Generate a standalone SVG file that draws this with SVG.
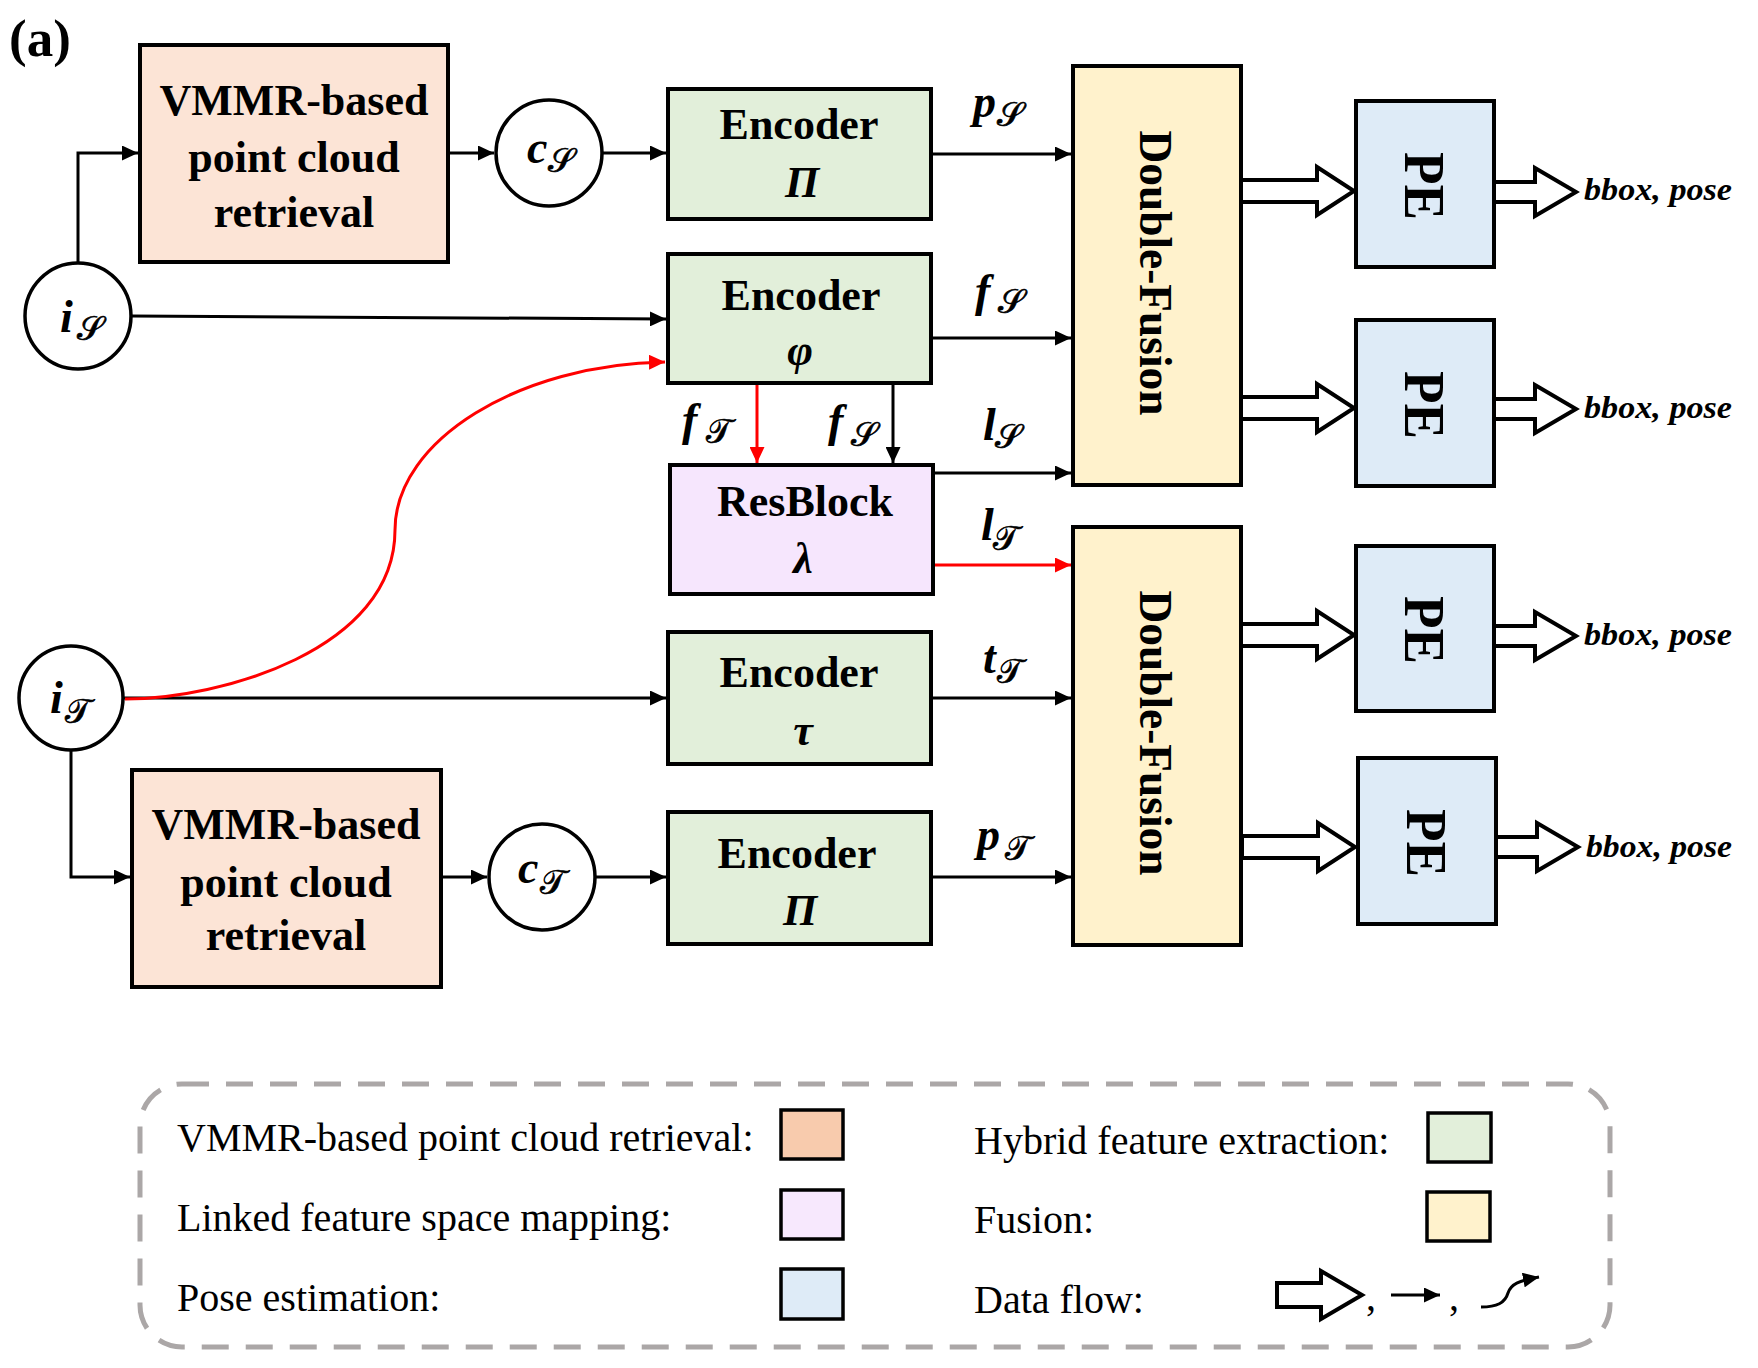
<svg xmlns="http://www.w3.org/2000/svg" width="1758" height="1368" viewBox="0 0 1758 1368">
  <style>
    .box { stroke: #000; stroke-width: 4; }
    .vmmr { fill: #fce4d6; }
    .enc { fill: #e2efda; }
    .res { fill: #f6e6fd; }
    .fus { fill: #fff2cc; }
    .pe { fill: #deebf7; }
    .circ { fill: #fff; stroke: #000; stroke-width: 3.5; }
    .lbl { font-family: "Liberation Serif", "Times New Roman", serif; font-weight: bold; font-size: 44px; fill: #000; text-anchor: middle; }
    .greek { font-family: "Liberation Serif", "DejaVu Serif", serif; font-style: italic; font-weight: bold; font-size: 44px; text-anchor: middle; }
    .vert { font-family: "Liberation Serif", serif; font-weight: bold; fill: #000; text-anchor: middle; }
    .mi { font-family: "Liberation Serif", serif; font-style: italic; font-weight: bold; font-size: 46px; fill: #000; }
    .mib { font-family: "Liberation Serif", serif; font-style: italic; font-weight: bold; font-size: 46px; fill: #000; }
    .scr { font-family: "DejaVu Serif", "DejaVu Sans", "Noto Sans", serif; font-size: 34px; fill: #000; stroke: #000; stroke-width: 0.7; }
    .out { font-family: "Liberation Serif", serif; font-style: italic; font-weight: bold; font-size: 31px; fill: #000; }
    .wire { fill: none; stroke: #000; stroke-width: 3; }
    .wire-red { fill: none; stroke: #ff0000; stroke-width: 3; }
    .hollow { fill: #fff; stroke: #000; stroke-width: 4; stroke-linejoin: miter; }
    .legend-frame { fill: none; stroke: #aba7a7; stroke-width: 5; stroke-dasharray: 27 17; }
    .legend-text { font-family: "Liberation Serif", serif; font-size: 40px; fill: #000; }
    .swatch { stroke: #000; stroke-width: 3.5; }
  </style>
  <defs>
    <marker id="arrow" markerUnits="userSpaceOnUse" markerWidth="16" markerHeight="15" refX="16" refY="7.5" orient="auto">
      <path d="M0,0 L16,7.5 L0,15 Z" fill="#000"/>
    </marker>
    <marker id="arrow-red" markerUnits="userSpaceOnUse" markerWidth="16" markerHeight="15" refX="16" refY="7.5" orient="auto">
      <path d="M0,0 L16,7.5 L0,15 Z" fill="#ff0000"/>
    </marker>
    <path id="hollow-long" d="M0,-11 H76 V-24 L113,0 L76,24 V11 H0 Z"/>
    <path id="hollow-short" d="M0,-10 H41 V-24 L82,0 L41,24 V10 H0 Z"/>
  </defs>

  <rect width="1758" height="1368" fill="#fff"/>

  <!-- panel tag -->
  <text x="9" y="56" font-family="Liberation Serif, serif" font-weight="bold" font-size="53">(a)</text>

  <!-- connectors -->
  <g id="connectors">
    <path class="wire" d="M78,263 V153 H138" marker-end="url(#arrow)"/>
    <path class="wire" d="M450,153 H494" marker-end="url(#arrow)"/>
    <path class="wire" d="M603,153 H666" marker-end="url(#arrow)"/>
    <path class="wire" d="M933,154 H1071" marker-end="url(#arrow)"/>
    <path class="wire" d="M131,316 L666,319" marker-end="url(#arrow)"/>
    <path class="wire" d="M933,338 H1071" marker-end="url(#arrow)"/>
    <path class="wire-red" d="M757,385 V463" marker-end="url(#arrow-red)"/>
    <path class="wire" d="M893,385 V463" marker-end="url(#arrow)"/>
    <path class="wire" d="M935,473 H1071" marker-end="url(#arrow)"/>
    <path class="wire-red" d="M935,565 H1071" marker-end="url(#arrow-red)"/>
    <path class="wire" d="M124,698 H666" marker-end="url(#arrow)"/>
    <path class="wire" d="M933,698 H1071" marker-end="url(#arrow)"/>
    <path class="wire" d="M71,751 V877 H130" marker-end="url(#arrow)"/>
    <path class="wire" d="M443,877 H487" marker-end="url(#arrow)"/>
    <path class="wire" d="M596,877 H666" marker-end="url(#arrow)"/>
    <path class="wire" d="M933,877 H1071" marker-end="url(#arrow)"/>
    <path class="wire-red" d="M125,699 C220,699 395,650 395,530 C395,440 520,364 665,362" marker-end="url(#arrow-red)"/>

    <!-- fusion to pose-estimation block arrows -->
    <use href="#hollow-long" class="hollow" transform="translate(1241,191)"/>
    <use href="#hollow-long" class="hollow" transform="translate(1241,408)"/>
    <use href="#hollow-long" class="hollow" transform="translate(1241,635)"/>
    <use href="#hollow-long" class="hollow" transform="translate(1242,847)"/>
    <use href="#hollow-short" class="hollow" transform="translate(1494,192)"/>
    <use href="#hollow-short" class="hollow" transform="translate(1494,409)"/>
    <use href="#hollow-short" class="hollow" transform="translate(1494,636)"/>
    <use href="#hollow-short" class="hollow" transform="translate(1496,847)"/>

    <!-- edge labels -->
    <text class="mi" x="973" y="117">p</text><text class="scr" x="997" y="126">𝒮</text>
    <text class="mi" x="975" y="306">f</text><text class="scr" x="998" y="313">𝒮</text>
    <text class="mi" x="682" y="435">f</text><text class="scr" x="706" y="443">𝒯</text>
    <text class="mi" x="828" y="436">f</text><text class="scr" x="851" y="446">𝒮</text>
    <text class="mi" x="983" y="440">l</text><text class="scr" x="995" y="448">𝒮</text>
    <text class="mi" x="981" y="540">l</text><text class="scr" x="993" y="550">𝒯</text>
    <text class="mi" x="983" y="673">t</text><text class="scr" x="997" y="683">𝒯</text>
    <text class="mi" x="977" y="850">p</text><text class="scr" x="1005" y="860">𝒯</text>

    <!-- outputs -->
    <text class="out" x="1584" y="200" textLength="148" lengthAdjust="spacingAndGlyphs">bbox, pose</text>
    <text class="out" x="1584" y="418" textLength="148" lengthAdjust="spacingAndGlyphs">bbox, pose</text>
    <text class="out" x="1584" y="645" textLength="148" lengthAdjust="spacingAndGlyphs">bbox, pose</text>
    <text class="out" x="1586" y="857" textLength="146" lengthAdjust="spacingAndGlyphs">bbox, pose</text>
  </g>

  <!-- inputs and retrieved clouds -->
  <g id="node-iS">
    <circle class="circ" cx="78" cy="316" r="53"/>
    <text class="mib" x="60" y="332">i</text><text class="scr" x="77" y="340">𝒮</text>
  </g>
  <g id="node-cS">
    <circle class="circ" cx="549" cy="153" r="53"/>
    <text class="mib" x="527" y="163">c</text><text class="scr" x="548" y="172">𝒮</text>
  </g>
  <g id="node-iT">
    <circle class="circ" cx="71" cy="698" r="52"/>
    <text class="mib" x="50" y="713">i</text><text class="scr" x="65" y="723">𝒯</text>
  </g>
  <g id="node-cT">
    <circle class="circ" cx="542" cy="877" r="53"/>
    <text class="mib" x="518" y="883">c</text><text class="scr" x="540" y="894">𝒯</text>
  </g>

  <!-- point cloud retrieval blocks -->
  <g id="node-vmmr-s">
    <rect class="box vmmr" x="140" y="45" width="308" height="217"/>
    <text class="lbl" x="294" y="115">VMMR-based</text>
    <text class="lbl" x="294" y="172">point cloud</text>
    <text class="lbl" x="294" y="227">retrieval</text>
  </g>
  <g id="node-vmmr-t">
    <rect class="box vmmr" x="132" y="770" width="309" height="217"/>
    <text class="lbl" x="286" y="839">VMMR-based</text>
    <text class="lbl" x="286" y="897">point cloud</text>
    <text class="lbl" x="286" y="950">retrieval</text>
  </g>

  <!-- encoders -->
  <g id="node-enc-pi-s">
    <rect class="box enc" x="668" y="89" width="263" height="130"/>
    <text class="lbl" x="799" y="139">Encoder</text>
    <text class="greek" x="802" y="197">Π</text>
  </g>
  <g id="node-enc-phi">
    <rect class="box enc" x="668" y="254" width="263" height="129"/>
    <text class="lbl" x="801" y="310">Encoder</text>
    <text class="greek" x="800" y="365">φ</text>
  </g>
  <g id="node-resblock">
    <rect class="box res" x="670" y="465" width="263" height="129"/>
    <text class="lbl" x="805" y="516">ResBlock</text>
    <text class="greek" x="803" y="573">λ</text>
  </g>
  <g id="node-enc-tau">
    <rect class="box enc" x="668" y="632" width="263" height="132"/>
    <text class="lbl" x="799" y="687">Encoder</text>
    <text class="greek" x="803" y="745">τ</text>
  </g>
  <g id="node-enc-pi-t">
    <rect class="box enc" x="668" y="812" width="263" height="132"/>
    <text class="lbl" x="797" y="868">Encoder</text>
    <text class="greek" x="800" y="925">Π</text>
  </g>

  <!-- fusion blocks -->
  <g id="node-fusion-1">
    <rect class="box fus" x="1073" y="66" width="168" height="419"/>
    <text class="vert" font-size="47" textLength="285" lengthAdjust="spacingAndGlyphs" transform="translate(1140,273) rotate(90)">Double-Fusion</text>
  </g>
  <g id="node-fusion-2">
    <rect class="box fus" x="1073" y="527" width="168" height="418"/>
    <text class="vert" font-size="47" textLength="285" lengthAdjust="spacingAndGlyphs" transform="translate(1140,733) rotate(90)">Double-Fusion</text>
  </g>

  <!-- pose estimation heads -->
  <g id="node-pe-1">
    <rect class="box pe" x="1356" y="101" width="138" height="166"/>
    <text class="vert" font-size="56" textLength="68" lengthAdjust="spacingAndGlyphs" transform="translate(1405,186) rotate(90)">PE</text>
  </g>
  <g id="node-pe-2">
    <rect class="box pe" x="1356" y="320" width="138" height="166"/>
    <text class="vert" font-size="56" textLength="68" lengthAdjust="spacingAndGlyphs" transform="translate(1405,405) rotate(90)">PE</text>
  </g>
  <g id="node-pe-3">
    <rect class="box pe" x="1356" y="546" width="138" height="165"/>
    <text class="vert" font-size="56" textLength="68" lengthAdjust="spacingAndGlyphs" transform="translate(1405,630) rotate(90)">PE</text>
  </g>
  <g id="node-pe-4">
    <rect class="box pe" x="1358" y="758" width="138" height="166"/>
    <text class="vert" font-size="56" textLength="68" lengthAdjust="spacingAndGlyphs" transform="translate(1407,843) rotate(90)">PE</text>
  </g>

  <!-- legend -->
  <g id="legend">
    <rect class="legend-frame" x="140" y="1084" width="1470" height="263" rx="42"/>
    <text class="legend-text" x="177" y="1151">VMMR-based point cloud retrieval:</text>
    <text class="legend-text" x="177" y="1231">Linked feature space mapping:</text>
    <text class="legend-text" x="177" y="1311">Pose estimation:</text>
    <rect class="swatch" x="781" y="1110" width="62" height="49" fill="#f8cbad"/>
    <rect class="swatch" x="781" y="1190" width="62" height="49" fill="#f7e8fd"/>
    <rect class="swatch" x="781" y="1269" width="62" height="50" fill="#deebf7"/>
    <text class="legend-text" x="974" y="1154">Hybrid feature extraction:</text>
    <text class="legend-text" x="974" y="1233">Fusion:</text>
    <text class="legend-text" x="974" y="1313">Data flow:</text>
    <rect class="swatch" x="1428" y="1113" width="63" height="49" fill="#e2efda"/>
    <rect class="swatch" x="1427" y="1192" width="63" height="49" fill="#fff2cc"/>
    <path class="hollow" d="M1277,1283 H1321 V1271 L1362,1295 L1321,1319 V1307 H1277 Z"/>
    <text class="legend-text" x="1366" y="1310">,</text>
    <path class="wire" d="M1391,1295 H1440" marker-end="url(#arrow)"/>
    <text class="legend-text" x="1449" y="1310">,</text>
    <path class="wire" d="M1481,1307 C1497,1307 1505,1303 1508,1293 C1511,1284 1518,1281 1539,1277" marker-end="url(#arrow)"/>
  </g>
</svg>
